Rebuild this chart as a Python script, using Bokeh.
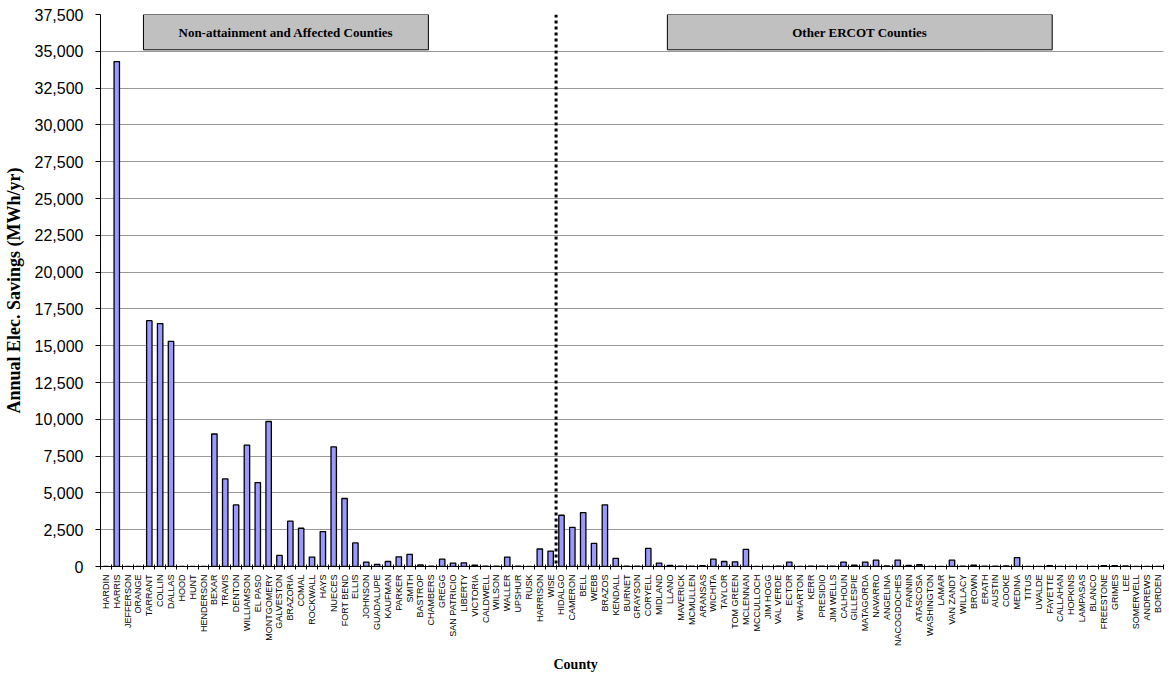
import math
from bokeh.plotting import figure
from bokeh.models import (ColumnDataSource, Range1d, FixedTicker, NumeralTickFormatter,
                          BoxAnnotation, Label, Span, Title)
from bokeh.embed import file_html
from bokeh.resources import INLINE

counties = [
    "HARDIN", "HARRIS", "JEFFERSON", "ORANGE", "TARRANT", "COLLIN", "DALLAS", "HOOD", "HUNT",
    "HENDERSON", "BEXAR", "TRAVIS", "DENTON", "WILLIAMSON", "EL PASO", "MONTGOMERY", "GALVESTON",
    "BRAZORIA", "COMAL", "ROCKWALL", "HAYS", "NUECES", "FORT BEND", "ELLIS", "JOHNSON",
    "GUADALUPE", "KAUFMAN", "PARKER", "SMITH", "BASTROP", "CHAMBERS", "GREGG", "SAN PATRICIO",
    "LIBERTY", "VICTORIA", "CALDWELL", "WILSON", "WALLER", "UPSHUR", "RUSK", "HARRISON", "WISE",
    "HIDALGO", "CAMERON", "BELL", "WEBB", "BRAZOS", "KENDALL", "BURNET", "GRAYSON", "CORYELL",
    "MIDLAND", "LLANO", "MAVERICK", "MCMULLEN", "ARANSAS", "WICHITA", "TAYLOR", "TOM GREEN",
    "MCLENNAN", "MCCULLOCH", "JIM HOGG", "VAL VERDE", "ECTOR", "WHARTON", "KERR", "PRESIDIO",
    "JIM WELLS", "CALHOUN", "GILLESPIE", "MATAGORDA", "NAVARRO", "ANGELINA", "NACOGDOCHES",
    "FANNIN", "ATASCOSA", "WASHINGTON", "LAMAR", "VAN ZANDT", "WILLACY", "BROWN", "ERATH",
    "AUSTIN", "COOKE", "MEDINA", "TITUS", "UVALDE", "FAYETTE", "CALLAHAN", "HOPKINS", "LAMPASAS",
    "BLANCO", "FREESTONE", "GRIMES", "LEE", "SOMERVELL", "ANDREWS", "BORDEN",
]

savings = [
    0, 34300, 0, 0, 16700, 16500, 15300, 0, 0,
    0, 9000, 5950, 4180, 8250, 5700, 9850, 750,
    3080, 2600, 640, 2370, 8130, 4620, 1600, 300,
    150, 340, 660, 820, 110, 20, 500, 230,
    250, 100, 30, 30, 640, 30, 0, 1190, 1050,
    3480, 2660, 3660, 1570, 4190, 550, 30, 30, 1230,
    230, 70, 30, 30, 50, 500, 340, 320,
    1160, 0, 0, 30, 300, 0, 30, 30,
    30, 300, 100, 300, 430, 40, 430,
    70, 120, 0, 0, 430, 30, 100, 30,
    30, 40, 600, 0, 0, 60, 0, 0, 0,
    0, 60, 60, 40, 0, 0, 0,
]

group_titles = ["Non-attainment and Affected Counties", "Other ERCOT Counties"]
first_other_county = "HIDALGO"
y_ticks = list(range(0, 37501, 2500))

positions = list(range(len(counties)))
src = ColumnDataSource(dict(x=positions, top=savings, county=counties))

SERIF = "Liberation Serif"
SANS = "Liberation Sans"

p = figure(width=1168, height=676,
           x_range=Range1d(-0.5, len(counties) - 0.5),
           y_range=Range1d(0, 37500),
           output_backend="svg", toolbar_location=None,
           min_border_left=100, min_border_right=5, min_border_top=14, min_border_bottom=0)

p.vbar(x="x", top="top", bottom=0, width=0.5, source=src,
       fill_color="#9999FF", line_color="black", line_width=1.3)

# y axis
p.yaxis.ticker = FixedTicker(ticks=y_ticks)
p.yaxis.formatter = NumeralTickFormatter(format="0,0")
p.yaxis.major_label_text_font = SANS
p.yaxis.major_label_text_font_size = "16px"
p.yaxis.major_label_text_color = "black"
p.yaxis.major_label_standoff = 12
p.yaxis.major_tick_out = 5
p.yaxis.major_tick_in = 0
p.yaxis.minor_tick_line_color = None
p.yaxis.axis_line_color = "black"
p.yaxis.axis_label = "Annual Elec. Savings (MWh/yr)"
p.yaxis.axis_label_text_font = SERIF
p.yaxis.axis_label_text_font_style = "bold"
p.yaxis.axis_label_text_font_size = "18px"
p.yaxis.axis_label_text_color = "black"
p.yaxis.axis_label_standoff = 8

# x axis
p.xaxis.ticker = FixedTicker(ticks=positions,
                             minor_ticks=[i - 0.5 for i in range(len(counties) + 1)])
p.xaxis.major_label_overrides = {i: c for i, c in enumerate(counties)}
p.xaxis.major_tick_line_color = None
p.xaxis.major_tick_out = 0
p.xaxis.major_tick_in = 0
p.xaxis.minor_tick_line_color = "black"
p.xaxis.minor_tick_in = 2
p.xaxis.minor_tick_out = 3
p.xaxis.major_label_orientation = math.pi / 2
p.xaxis.major_label_standoff = 5
p.xaxis.major_label_text_font = SANS
p.xaxis.major_label_text_font_size = "9px"
p.xaxis.major_label_text_color = "black"
p.xaxis.axis_line_color = "black"

p.add_layout(Title(text="County", align="left", offset=453, text_font=SERIF,
                   text_font_style="bold", text_font_size="14px", text_color="black"),
             "below")

# grid
p.xgrid.visible = False
p.ygrid.grid_line_color = "#333333"
p.ygrid.grid_line_dash = "1 1"
p.ygrid.grid_line_width = 1
p.outline_line_color = None

# divider between groups
split = counties.index(first_other_county) - 0.5
p.add_layout(Span(location=split, dimension="height", line_color="black",
                  line_width=3, line_dash="3 3"))

# header boxes
boxes = [(3.46, 29.73), (51.76, 87.24)]
for (l, r), txt in zip(boxes, group_titles):
    p.add_layout(BoxAnnotation(left=l, right=r, bottom=35100, top=37500,
                               fill_color="#C0C0C0", fill_alpha=1.0,
                               line_color="black", line_width=1, line_alpha=1.0))
    p.add_layout(Label(x=(l + r) / 2, y=36300, text=txt, text_align="center",
                       text_baseline="middle", text_font=SERIF, text_font_style="bold",
                       text_font_size="13px", text_color="black"))

open("out.html", "w").write(file_html(p, INLINE))
